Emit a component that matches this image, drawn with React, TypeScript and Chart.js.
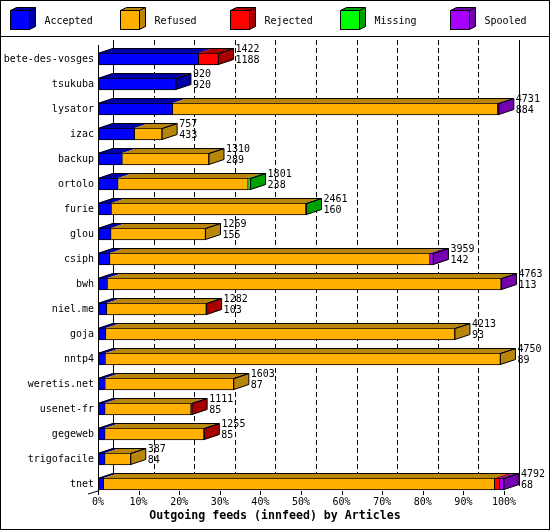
import { useEffect, useRef } from 'react';
import { Chart, registerables } from 'chart.js';
Chart.register(...registerables);

const hosts = ['bete-des-vosges', 'tsukuba', 'lysator', 'izac', 'backup', 'ortolo', 'furie', 'glou', 'csiph', 'bwh', 'niel.me', 'goja', 'nntp4', 'weretis.net', 'usenet-fr', 'gegeweb', 'trigofacile', 'tnet'];
const accepted = [1188, 920, 884, 433, 289, 238, 160, 155, 142, 113, 103, 93, 89, 87, 85, 85, 84, 68];
const refused = [0, 0, 3835, 324, 1021, 1535, 2295, 1114, 3777, 4645, 1175, 4120, 4661, 1516, 1014, 1167, 303, 4614];
const rejected = [234, 0, 0, 0, 0, 0, 0, 0, 0, 0, 4, 0, 0, 0, 12, 3, 0, 59];
const missing = [0, 0, 0, 0, 0, 28, 6, 0, 0, 0, 0, 0, 0, 0, 0, 0, 0, 0];
const spooled = [0, 0, 12, 0, 0, 0, 0, 0, 40, 5, 0, 0, 0, 0, 0, 0, 0, 51];
const seriesNames = ['Accepted', 'Refused', 'Rejected', 'Missing', 'Spooled'];
const xTicks = [0, 10, 20, 30, 40, 50, 60, 70, 80, 90, 100];
const titleText = 'Outgoing feeds (innfeed) by Articles';

const series = [accepted, refused, rejected, missing, spooled];
const frontColors = ['#0000ff', '#ffb000', '#ff0000', '#00ff00', '#a800ff'];
const sideColors = ['#0000a8', '#b8860b', '#a80000', '#00a000', '#7400b0'];
const totals = hosts.map((_, i) => series.reduce((s, arr) => s + arr[i], 0));
const maxTotal = Math.max(...totals);

const FONT = '"DejaVu Sans Mono", monospace';
const DX = 15;
const DY = -5;

const threeD = {
  id: 'threeD',
  beforeDraw(chart: any) {
    const ctx = chart.ctx as CanvasRenderingContext2D;
    const W = chart.width;
    ctx.save();
    ctx.fillStyle = '#fff';
    ctx.fillRect(0, 0, W, chart.height);
    ctx.strokeStyle = '#000';
    ctx.lineWidth = 1;
    // legend
    ctx.font = '10px ' + FONT;
    ctx.textBaseline = 'middle';
    ctx.textAlign = 'left';
    seriesNames.forEach((name, k) => {
      const bx = 10.5 + 110 * k, by = 10.5, s = 19, dx = 6, dy = -3;
      ctx.fillStyle = sideColors[k];
      ctx.beginPath();
      ctx.moveTo(bx, by); ctx.lineTo(bx + dx, by + dy); ctx.lineTo(bx + s + dx, by + dy);
      ctx.lineTo(bx + s + dx, by + s + dy); ctx.lineTo(bx + s, by + s); ctx.lineTo(bx + s, by);
      ctx.closePath(); ctx.fill(); ctx.stroke();
      ctx.beginPath(); ctx.moveTo(bx + s, by); ctx.lineTo(bx + s + dx, by + dy); ctx.stroke();
      ctx.fillStyle = frontColors[k];
      ctx.fillRect(bx, by, s, s);
      ctx.strokeRect(bx, by, s, s);
      ctx.fillStyle = '#000';
      ctx.fillText(name, bx + 34, 21);
    });
    ctx.beginPath(); ctx.moveTo(0, 36.5); ctx.lineTo(W, 36.5); ctx.stroke();

    const xs = chart.scales.x, ys = chart.scales.y;
    const frontTop = ys.getPixelForValue(0) - 14;
    const frontBottom = ys.getPixelForValue(hosts.length - 1) + 7;
    // back plane grid
    xTicks.forEach((v) => {
      const px = Math.round(xs.getPixelForValue(v)) + DX + 0.5;
      ctx.setLineDash(v === 0 || v === 100 ? [] : [5, 3]);
      ctx.beginPath(); ctx.moveTo(px, frontTop + DY); ctx.lineTo(px, frontBottom + DY); ctx.stroke();
    });
    ctx.setLineDash([]);
    // front tick marks
    xTicks.forEach((v) => {
      const px = Math.round(xs.getPixelForValue(v)) + 0.5;
      ctx.beginPath(); ctx.moveTo(px, frontBottom); ctx.lineTo(px, frontBottom + 4); ctx.stroke();
    });
    // floor edge
    const x0 = Math.round(xs.getPixelForValue(0));
    ctx.beginPath(); ctx.moveTo(x0 - 10, frontBottom + 3); ctx.lineTo(x0, frontBottom); ctx.stroke();
    ctx.restore();
  },
  afterDatasetsDraw(chart: any) {
    const ctx = chart.ctx as CanvasRenderingContext2D;
    const xs = chart.scales.x, ys = chart.scales.y;
    ctx.save();
    ctx.lineWidth = 1;
    ctx.strokeStyle = '#000';
    const metas = seriesNames.map((_, k) => chart.getDatasetMeta(k));
    hosts.forEach((_, i) => {
      let xStart = 0, xEnd = 0, top = 0, bottom = 0, last = -1;
      metas.forEach((meta: any, k: number) => {
        const el = meta.data[i];
        if (!el) return;
        const p = el.getProps(['x', 'y', 'base', 'height'], true);
        top = p.y - p.height / 2;
        bottom = p.y + p.height / 2;
        if (k === 0) xStart = p.base;
        if (series[k][i] > 0) {
          last = k;
          xEnd = p.x;
          ctx.fillStyle = sideColors[k];
          ctx.beginPath();
          ctx.moveTo(p.base, top); ctx.lineTo(p.base + DX, top + DY);
          ctx.lineTo(p.x + DX, top + DY); ctx.lineTo(p.x, top);
          ctx.closePath(); ctx.fill();
        }
      });
      if (last < 0) return;
      const t = Math.round(top) + 0.5, b = Math.round(bottom) - 0.5;
      const xe = xEnd;
      // side face
      ctx.fillStyle = sideColors[last];
      ctx.beginPath();
      ctx.moveTo(xe, t); ctx.lineTo(xe + DX, t + DY); ctx.lineTo(xe + DX, b + DY); ctx.lineTo(xe, b);
      ctx.closePath(); ctx.fill(); ctx.stroke();
      // top outline
      ctx.beginPath();
      ctx.moveTo(xStart, t); ctx.lineTo(xStart + DX, t + DY); ctx.lineTo(xe + DX, t + DY); ctx.lineTo(xe, t);
      ctx.stroke();
      // value labels
      ctx.fillStyle = '#000';
      ctx.font = '10px ' + FONT;
      ctx.textAlign = 'left';
      ctx.textBaseline = 'middle';
      const c = (top + bottom) / 2;
      ctx.fillText(String(totals[i]), xe + DX + 2, c - 9.5);
      ctx.fillText(String(accepted[i]), xe + DX + 2, c + 1.5);
    });
    // front left axis
    const ax = Math.round(xs.getPixelForValue(0)) + 0.5;
    const frontTop = ys.getPixelForValue(0) - 14;
    const frontBottom = ys.getPixelForValue(hosts.length - 1) + 7;
    ctx.beginPath(); ctx.moveTo(ax, frontTop); ctx.lineTo(ax, frontBottom); ctx.stroke();
    ctx.restore();
  },
  afterDraw(chart: any) {
    const ctx = chart.ctx as CanvasRenderingContext2D;
    ctx.save();
    ctx.fillStyle = '#000';
    ctx.font = 'bold 11.6px ' + FONT;
    ctx.textAlign = 'center';
    ctx.textBaseline = 'middle';
    ctx.fillText(titleText, chart.width / 2, 516);
    ctx.strokeStyle = '#000';
    ctx.lineWidth = 1;
    ctx.strokeRect(0.5, 0.5, chart.width - 1, chart.height - 1);
    ctx.restore();
  },
};

export default function App() {
  const ref = useRef<HTMLCanvasElement | null>(null);
  useEffect(() => {
    if (!ref.current) return;
    Chart.defaults.font.family = FONT;
    Chart.defaults.font.size = 10;
    Chart.defaults.color = '#000';
    const chart = new Chart(ref.current, {
      type: 'bar',
      data: {
        labels: hosts,
        datasets: seriesNames.map((name, k) => ({
          label: name,
          data: series[k].map((v) => (v / maxTotal) * 100),
          backgroundColor: frontColors[k],
          borderColor: '#000',
          borderWidth: 1,
          borderSkipped: 'start' as const,
          barThickness: 12,
          clip: false,
        })),
      },
      options: {
        indexAxis: 'y',
        responsive: false,
        animation: false,
        layout: { padding: { left: 0, right: 46, top: 59, bottom: 0 } },
        plugins: { legend: { display: false }, tooltip: { enabled: false } },
        scales: {
          x: {
            stacked: true,
            min: 0,
            max: 100,
            ticks: { stepSize: 10, callback: (v: any) => v + '%', color: '#000', padding: 12, maxRotation: 0, autoSkip: false, font: { family: FONT, size: 10 } },
            grid: { display: false, drawTicks: false },
            border: { display: false },
            afterFit: (s: any) => { s.height = 46; },
          },
          y: {
            stacked: true,
            offset: false,
            ticks: { color: '#000', padding: 4, autoSkip: false, font: { family: FONT, size: 10 } },
            grid: { display: false, drawTicks: false },
            border: { display: false },
            afterFit: (s: any) => { s.width = 98; },
          },
        },
      } as any,
      plugins: [threeD],
    });
    return () => chart.destroy();
  }, []);
  return (
    <div style={{ position: 'fixed', left: 0, top: 0, width: 550, height: 530 }}>
      <canvas ref={ref} width={550} height={530} style={{ width: 550, height: 530, display: 'block' }} />
    </div>
  );
}
